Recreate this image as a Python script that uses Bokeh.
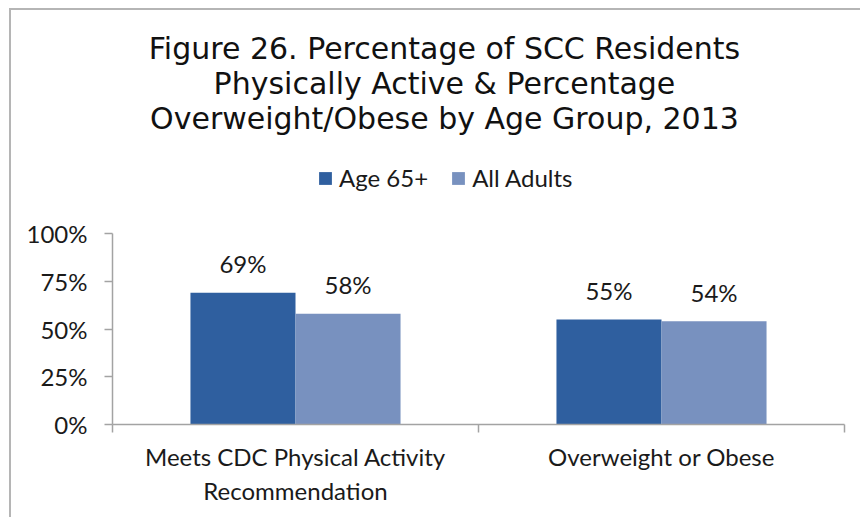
from bokeh.plotting import figure
from bokeh.models import (ColumnDataSource, Range1d, FactorRange, LinearAxis,
                          FixedTicker, Legend, LegendItem)
from bokeh.transform import dodge
from bokeh.core.properties import value
from bokeh.embed import file_html
from bokeh.resources import INLINE

# ---- data ----
categories = ["Meets CDC Physical Activity Recommendation", "Overweight or Obese"]
category_labels = ["Meets CDC Physical Activity\nRecommendation", "Overweight or Obese"]
series_names = ["Age 65+", "All Adults"]
age65 = [69, 55]
all_adults = [58, 54]
y_ticks = [0, 25, 50, 75, 100]
y_tick_labels = ["0%", "25%", "50%", "75%", "100%"]
title_lines = ["Figure 26. Percentage of SCC Residents",
               "Physically Active & Percentage",
               "Overweight/Obese by Age Group, 2013"]

# ---- layout constants ----
W, H = 851, 509
FRAME_H = 414
PX_PER_UNIT = 1.91
Y_END = FRAME_H / PX_PER_UNIT
BAR_W = 0.287
OFF = BAR_W / 2
LABEL_FONT = "Lato"
LABEL_SIZE = "24px"
TITLE_FONT = "DejaVu Sans"
C_DARK = "#2f5f9f"
C_LIGHT = "#7891bf"
AXIS_C = "#a3a3a3"

p = figure(width=W, height=H,
           x_range=FactorRange(factors=categories, range_padding=0),
           y_range=Range1d(0, Y_END),
           x_axis_location=None,
           output_backend="svg", toolbar_location=None,
           min_border_left=101, min_border_right=18,
           min_border_top=0, min_border_bottom=95)
p.styles = {"margin-left": "9px", "margin-top": "8px",
            "border-left": "2px solid #b5b5b5", "border-top": "2px solid #b5b5b5"}
p.outline_line_color = None
p.xgrid.grid_line_color = None
p.ygrid.grid_line_color = None
p.background_fill_color = "white"
p.border_fill_color = "white"

# y axis
ya = p.yaxis[0]
ya.ticker = FixedTicker(ticks=y_ticks, minor_ticks=[])
ya.major_label_overrides = dict(zip(y_ticks, y_tick_labels))
ya.bounds = (0, 100)
ya.axis_line_color = AXIS_C
ya.axis_line_width = 1.5
ya.major_tick_line_color = AXIS_C
ya.major_tick_line_width = 1.5
ya.major_tick_in = 0
ya.major_tick_out = 8
ya.minor_tick_line_color = None
ya.major_label_standoff = 17
ya.major_label_text_font = LABEL_FONT
ya.major_label_text_font_size = LABEL_SIZE
ya.major_label_text_color = "#1a1a1a"

# x axis: ticks at category boundaries (synthetic coords), labels at centres
n = len(categories)
centers = [i + 0.5 for i in range(n)]
xa = LinearAxis(ticker=FixedTicker(ticks=centers, minor_ticks=list(range(n + 1))),
                major_label_overrides=dict(zip(centers, category_labels)),
                axis_line_color=AXIS_C, axis_line_width=1.5,
                major_tick_in=0, major_tick_out=0, major_tick_line_color=None,
                minor_tick_in=0, minor_tick_out=8,
                minor_tick_line_color=AXIS_C, minor_tick_line_width=1.5,
                major_label_standoff=9,
                major_label_text_font=LABEL_FONT,
                major_label_text_font_size=LABEL_SIZE,
                major_label_text_color="#1a1a1a")
p.add_layout(xa, "below")

src = ColumnDataSource(dict(
    cat=categories,
    age65=age65,
    all_adults=all_adults,
    age65_lbl=[f"{v}%" for v in age65],
    all_lbl=[f"{v}%" for v in all_adults],
))

r1 = p.vbar(x=dodge("cat", -OFF, range=p.x_range), top="age65", width=BAR_W,
            source=src, fill_color=C_DARK, line_color=None)
r2 = p.vbar(x=dodge("cat", OFF, range=p.x_range), top="all_adults", width=BAR_W,
            source=src, fill_color=C_LIGHT, line_color=None)

for col, lbl, off in (("age65", "age65_lbl", -OFF), ("all_adults", "all_lbl", OFF)):
    p.text(x=dodge("cat", off, range=p.x_range), y=col, text=lbl, source=src,
           text_align="center", text_baseline="alphabetic", y_offset=-29,
           text_font=value(LABEL_FONT), text_font_size=LABEL_SIZE, text_color="#1a1a1a")

# title (three centred lines)
title_src = ColumnDataSource(dict(
    x=[0.907] * 3,
    y=[(FRAME_H - b) / PX_PER_UNIT for b in (38, 73, 108)],
    text=title_lines,
))
p.text(x="x", y="y", text="text", source=title_src,
       text_align="center", text_baseline="alphabetic",
       text_font=value(TITLE_FONT), text_font_size="30px", text_color="#111111")

legend = Legend(items=[LegendItem(label=series_names[0], renderers=[r1]),
                       LegendItem(label=series_names[1], renderers=[r2])],
                orientation="horizontal", location=(205, 232),
                glyph_width=16, glyph_height=16, label_standoff=6, spacing=22,
                padding=0, margin=0, border_line_color=None,
                background_fill_alpha=0,
                label_text_font=LABEL_FONT, label_text_font_size=LABEL_SIZE,
                label_text_color="#1a1a1a", label_text_baseline="middle",
                label_height=16)
p.add_layout(legend)

open("out.html", "w").write(file_html(p, INLINE))
